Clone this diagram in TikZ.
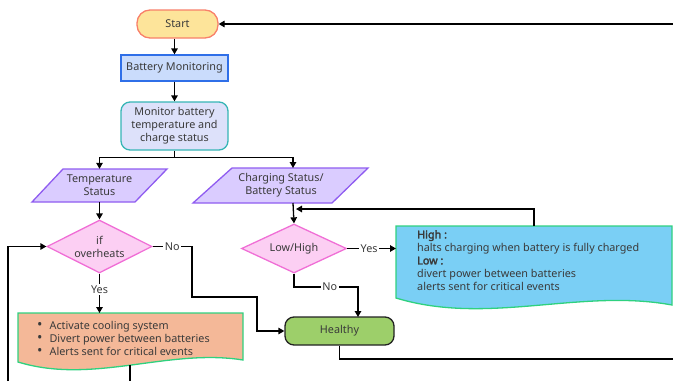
\documentclass[tikz,border=0pt]{standalone}
\usepackage{fontspec}
\setmainfont{Noto Sans}[AutoFakeBold=2.5]
\usetikzlibrary{shapes.geometric,arrows.meta}
\definecolor{txt}{HTML}{3A3A3A}
\definecolor{startfill}{HTML}{FDE49A}
\definecolor{startdraw}{HTML}{F8806A}
\definecolor{bmfill}{HTML}{CADCFC}
\definecolor{bmdraw}{HTML}{2F6FE8}
\definecolor{monfill}{HTML}{DDE1FA}
\definecolor{mondraw}{HTML}{36B5B5}
\definecolor{parafill}{HTML}{DACCFF}
\definecolor{paradraw}{HTML}{8F5CF0}
\definecolor{diafill}{HTML}{FCCFF3}
\definecolor{diadraw}{HTML}{F06FD6}
\definecolor{healfill}{HTML}{9DCF6A}
\definecolor{healdraw}{HTML}{222222}
\definecolor{orfill}{HTML}{F4B898}
\definecolor{docdraw}{HTML}{2FD17F}
\definecolor{blfill}{HTML}{7ACFF5}
\begin{document}
\begin{tikzpicture}[x=1pt,y=-1pt,
  every node/.style={font=\fontsize{10.8}{13}\selectfont, text=txt},
  arr/.style={draw=black, line width=1.3pt, -{Triangle[length=6pt,width=6.5pt]}},
  ln/.style={draw=black, line width=1.3pt},
  lbl/.style={fill=white, inner sep=1.5pt},
  boxtxt/.style={align=center, inner sep=0pt},
  startbox/.style={draw=startdraw, fill=startfill, line width=1.3pt, rounded corners=13pt, minimum width=81pt, minimum height=28pt},
  bmbox/.style={draw=bmdraw, fill=bmfill, line width=1.3pt, minimum width=107pt, minimum height=26pt},
  monbox/.style={draw=mondraw, fill=monfill, line width=1.3pt, rounded corners=9pt, minimum width=107pt, minimum height=48pt, align=center},
  para/.style={draw=paradraw, fill=parafill, line width=1.3pt},
  dia/.style={diamond, draw=diadraw, fill=diafill, line width=1.3pt, aspect=2, inner sep=0pt, align=center},
  healbox/.style={draw=healdraw, fill=healfill, line width=1.3pt, rounded corners=9pt, minimum width=109pt, minimum height=28pt},
  doc/.style={draw=docdraw, line width=1.3pt}
]
\useasboundingbox (0,0) rectangle (673,381);

% shapes
\node[startbox] (start) at (177.5,24) {Start};
\node[bmbox] (bm) at (174.5,68) {Battery Monitoring};
\node[monbox] (mon) at (174.5,126) {Monitor battery\\temperature and\\charge status};

\draw[para] (63,169) -- (167,169) -- (135,202) -- (32,202) -- cycle;
\node[boxtxt, minimum height=33pt] (ts) at (99.5,185.5) {Temperature\\Status};
\draw[para] (232,168) -- (368,168) -- (332,203) -- (193,203) -- cycle;
\node[boxtxt, minimum height=35pt] (cs) at (281,185.5) {Charging Status/\\Battery Status};
\coordinate (csin) at (293,168);
\coordinate (csout) at (293,203);

\node[dia, minimum width=105pt, minimum height=53pt] (ov) at (99.5,246.5) {if\\overheats};
\node[dia, minimum width=105pt, minimum height=49pt] (lh) at (294,248.5) {Low/High};

\node[healbox] (heal) at (339.5,331) {Healthy};

% orange document
\draw[doc, fill=orfill] (18,313) -- (243,313) -- (243,360) .. controls (168,348) and (93,385) .. (18,362) -- cycle;
\coordinate (ortop) at (99.5,313);
\coordinate (orbot) at (130,365);
\node[anchor=north west, inner sep=0pt, align=left] (ortxt) at (37,320) {%
\begin{tabular}{@{}l@{\hspace{7pt}}l@{}}
{\Large\textbullet} & Activate cooling system\\
{\Large\textbullet} & Divert power between batteries\\
{\Large\textbullet} & Alerts sent for critical events
\end{tabular}};

% blue document
\draw[doc, fill=blfill] (396,226) -- (672,226) -- (672,305) .. controls (580,288) and (488,326) .. (396,298) -- cycle;
\coordinate (blin) at (396,248.5);
\coordinate (bltop) at (534,226);
\node[anchor=north west, inner sep=0pt, align=left] (bltxt) at (417,230) {%
\textbf{High :}\\
halts charging when battery is fully charged\\
\textbf{Low :}\\
divert power between batteries\\
alerts sent for critical events};

% free ends
\coordinate (topright) at (673,24);
\coordinate (botright) at (673,359);
\coordinate (orend) at (130,381);
\coordinate (loopstart) at (8,381);
\coordinate (lhback) at (296,209);

% connectors
\draw[arr] (topright) -- (start.east);
\draw[arr] (start.south -| bm.north) -- (bm.north);
\draw[arr] (bm.south) -- (mon.north);
\draw[ln] (mon.south) -- ++(0,7) coordinate (split);
\draw[arr] (split) -| (ts.north);
\draw[arr] (split) -| (csin);
\draw[arr] (ts.south) -- (ov.north);
\draw[arr] (csout) -- (lh.north);
\draw[arr] (ov.south) -- node[lbl, pos=0.4] {Yes} (ortop);
\draw[arr] (ov.east) -- node[lbl, pos=0.5] {No} (192,246.5) |- (257,297) |- (heal.west);
\draw[arr] (lh.east) -- node[lbl, pos=0.45] {Yes} (blin);
\draw[arr] (lh.south) |- node[lbl, pos=0.78] {No} (358,287) -- (358,317);
\draw[arr] (bltop) |- (lhback);
\draw[ln] (heal.south) |- (botright);
\draw[ln] (orbot) -- (orend);
\draw[arr] (loopstart) |- (ov.west);
\end{tikzpicture}
\end{document}
